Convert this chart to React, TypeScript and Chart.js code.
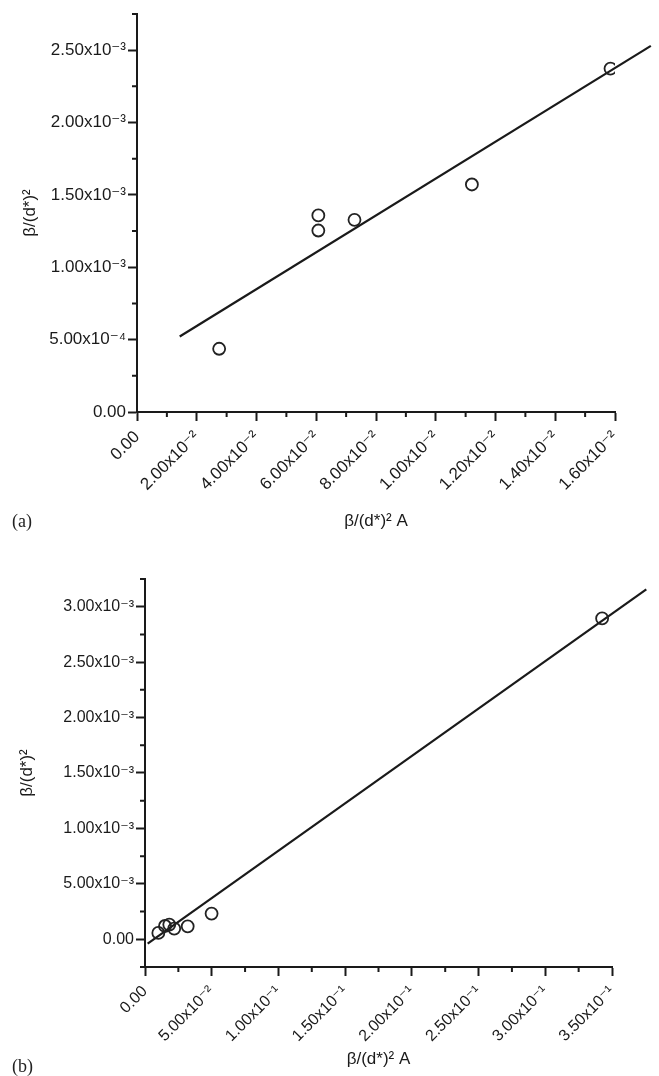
import React, { useEffect, useRef } from 'react';
import { Chart, registerables } from 'chart.js';

Chart.register(...registerables);

// ---------- Panel (a) data ----------
const A_POINTS_X = [0.0275, 0.0607, 0.0607, 0.0728, 0.1121, 0.1585];
const A_POINTS_Y = [0.437e-3, 1.358e-3, 1.254e-3, 1.328e-3, 1.572e-3, 2.373e-3];
const A_FIT_X = [0.0143, 0.172];
const A_FIT_Y = [0.522e-3, 2.53e-3];
const A_X_TICKS = [0, 0.02, 0.04, 0.06, 0.08, 0.1, 0.12, 0.14, 0.16];
const A_X_LABELS = ['0.00', '2.00x10⁻²', '4.00x10⁻²', '6.00x10⁻²', '8.00x10⁻²', '1.00x10⁻²', '1.20x10⁻²', '1.40x10⁻²', '1.60x10⁻²'];
const A_X_MINOR = [0.01, 0.03, 0.05, 0.07, 0.09, 0.11, 0.13, 0.15];
const A_Y_TICKS = [0, 0.5e-3, 1.0e-3, 1.5e-3, 2.0e-3, 2.5e-3];
const A_Y_LABELS = ['0.00', '5.00x10⁻⁴', '1.00x10⁻³', '1.50x10⁻³', '2.00x10⁻³', '2.50x10⁻³'];
const A_Y_MINOR = [0.25e-3, 0.75e-3, 1.25e-3, 1.75e-3, 2.25e-3, 2.75e-3];

// ---------- Panel (b) data ----------
const B_POINTS_X = [0.0100, 0.0150, 0.0182, 0.0219, 0.0320, 0.0499, 0.3426];
const B_POINTS_Y = [0.057e-3, 0.120e-3, 0.133e-3, 0.097e-3, 0.117e-3, 0.232e-3, 2.894e-3];
const B_FIT_X = [0.002, 0.3757];
const B_FIT_Y = [-0.039e-3, 3.156e-3];
const B_X_TICKS = [0, 0.05, 0.1, 0.15, 0.2, 0.25, 0.3, 0.35];
const B_X_LABELS = ['0.00', '5.00x10⁻²', '1.00x10⁻¹', '1.50x10⁻¹', '2.00x10⁻¹', '2.50x10⁻¹', '3.00x10⁻¹', '3.50x10⁻¹'];
const B_X_MINOR = [0.025, 0.075, 0.125, 0.175, 0.225, 0.275, 0.325];
const B_Y_TICKS = [0, 0.5e-3, 1.0e-3, 1.5e-3, 2.0e-3, 2.5e-3, 3.0e-3];
const B_Y_LABELS = ['0.00', '5.00x10⁻³', '1.00x10⁻³', '1.50x10⁻³', '2.00x10⁻³', '2.50x10⁻³', '3.00x10⁻³'];
const B_Y_MINOR = [-0.25e-3, 0.25e-3, 0.75e-3, 1.25e-3, 1.75e-3, 2.25e-3, 2.75e-3, 3.25e-3];

const Y_TITLE = 'β/(d*)²';
const X_TITLE = 'β/(d*)² A';

const INK = '#1a1a1a';
const FONT_FAMILY = '"Liberation Sans", Arial, "DejaVu Sans", sans-serif';

const minorTickPlugin = {
  id: 'minorTicks',
  afterDraw(chart: any, _args: any, opts: any) {
    const { ctx, chartArea, scales } = chart;
    const len = opts.length ?? 5;
    ctx.save();
    ctx.strokeStyle = INK;
    ctx.lineWidth = 2;
    ctx.beginPath();
    (opts.x || []).forEach((v: number) => {
      const p = scales.x.getPixelForValue(v);
      ctx.moveTo(p, chartArea.bottom);
      ctx.lineTo(p, chartArea.bottom + len);
    });
    (opts.y || []).forEach((v: number) => {
      const p = scales.y.getPixelForValue(v);
      ctx.moveTo(chartArea.left, p);
      ctx.lineTo(chartArea.left - len, p);
    });
    ctx.stroke();
    ctx.restore();
  },
};

type Spec = {
  px: number[]; py: number[]; fx: number[]; fy: number[];
  xMin: number; xMax: number; yMin: number; yMax: number;
  xTicks: number[]; xLabels: string[]; xMinor: number[];
  yTicks: number[]; yLabels: string[]; yMinor: number[];
  padTop: number; padRight: number; yWidth: number; xHeight: number;
  tickFont: number; yTitlePad: number; xTitlePad: number; xTickPad: number;
};

function makeConfig(s: Spec): any {
  const tickFont = { family: FONT_FAMILY, size: s.tickFont };
  const titleFont = { family: FONT_FAMILY, size: 17 };
  return {
    type: 'scatter',
    data: {
      datasets: [
        {
          data: s.px.map((x, i) => ({ x, y: s.py[i] })),
          showLine: false,
          pointStyle: 'circle',
          pointRadius: 6,
          pointBorderWidth: 1.8,
          pointBorderColor: '#222',
          pointBackgroundColor: 'rgba(0,0,0,0)',
        },
        {
          data: s.fx.map((x, i) => ({ x, y: s.fy[i] })),
          showLine: true,
          borderColor: INK,
          borderWidth: 2.2,
          pointRadius: 0,
          clip: false,
        },
      ],
    },
    options: {
      responsive: false,
      animation: false,
      events: [],
      layout: { padding: { top: s.padTop, right: s.padRight, left: 0, bottom: 0 } },
      plugins: {
        legend: { display: false },
        tooltip: { enabled: false },
        minorTicks: { x: s.xMinor, y: s.yMinor, length: 5 },
      },
      scales: {
        x: {
          type: 'linear',
          min: s.xMin,
          max: s.xMax,
          afterBuildTicks: (sc: any) => { sc.ticks = s.xTicks.map((v) => ({ value: v })); },
          afterFit: (sc: any) => {
            sc.height = s.xHeight;
            sc.paddingLeft = 0; sc.paddingRight = 0; sc.paddingTop = 0; sc.paddingBottom = 0;
          },
          ticks: {
            autoSkip: false,
            minRotation: 45,
            maxRotation: 45,
            padding: s.xTickPad,
            color: INK,
            font: tickFont,
            callback: (_v: any, i: number) => s.xLabels[i],
          },
          grid: { drawOnChartArea: false, drawTicks: true, tickLength: 9, tickWidth: 2, tickColor: INK },
          border: { display: true, color: INK, width: 2 },
          title: { display: true, text: X_TITLE, color: INK, font: titleFont, padding: { top: 0, bottom: s.xTitlePad } },
        },
        y: {
          type: 'linear',
          min: s.yMin,
          max: s.yMax,
          afterBuildTicks: (sc: any) => { sc.ticks = s.yTicks.map((v) => ({ value: v })); },
          afterFit: (sc: any) => {
            sc.width = s.yWidth;
            sc.paddingLeft = 0; sc.paddingRight = 0; sc.paddingTop = 0; sc.paddingBottom = 0;
          },
          ticks: {
            autoSkip: false,
            padding: 2,
            color: INK,
            font: tickFont,
            callback: (_v: any, i: number) => s.yLabels[i],
          },
          grid: { drawOnChartArea: false, drawTicks: true, tickLength: 9, tickWidth: 2, tickColor: INK },
          border: { display: true, color: INK, width: 2 },
          title: { display: true, text: Y_TITLE, color: INK, font: titleFont, padding: { top: s.yTitlePad, bottom: 0 } },
        },
      },
    },
    plugins: [minorTickPlugin],
  };
}

const SPEC_A: Spec = {
  px: A_POINTS_X, py: A_POINTS_Y, fx: A_FIT_X, fy: A_FIT_Y,
  xMin: 0, xMax: 0.16, yMin: 0, yMax: 2.75e-3,
  xTicks: A_X_TICKS, xLabels: A_X_LABELS, xMinor: A_X_MINOR,
  yTicks: A_Y_TICKS, yLabels: A_Y_LABELS, yMinor: A_Y_MINOR,
  padTop: 14, padRight: 44, yWidth: 137, xHeight: 128,
  tickFont: 17, yTitlePad: 20, xTitlePad: 8, xTickPad: 6,
};

const SPEC_B: Spec = {
  px: B_POINTS_X, py: B_POINTS_Y, fx: B_FIT_X, fy: B_FIT_Y,
  xMin: 0, xMax: 0.35, yMin: -0.25e-3, yMax: 3.25e-3,
  xTicks: B_X_TICKS, xLabels: B_X_LABELS, xMinor: B_X_MINOR,
  yTicks: B_Y_TICKS, yLabels: B_Y_LABELS, yMinor: B_Y_MINOR,
  padTop: 39, padRight: 47, yWidth: 145, xHeight: 109,
  tickFont: 16, yTitlePad: 17, xTitlePad: 6, xTickPad: 6,
};

function Panel({ spec, width, height, top }: { spec: Spec; width: number; height: number; top: number }) {
  const ref = useRef<HTMLCanvasElement | null>(null);
  useEffect(() => {
    if (!ref.current) return;
    const chart = new Chart(ref.current, makeConfig(spec));
    return () => chart.destroy();
  }, [spec]);
  return (
    <canvas
      ref={ref}
      width={width}
      height={height}
      style={{ position: 'absolute', left: 0, top, width, height }}
    />
  );
}

const panelLabel: React.CSSProperties = {
  position: 'absolute',
  left: 12,
  fontFamily: '"Liberation Serif", "DejaVu Serif", serif',
  fontSize: 18,
  lineHeight: '18px',
  color: '#222',
};

export default function App() {
  return (
    <div style={{ position: 'absolute', left: 0, top: 0, width: 659, height: 1076, background: '#fff', overflow: 'hidden' }}>
      <Panel spec={SPEC_A} width={659} height={540} top={0} />
      <Panel spec={SPEC_B} width={659} height={536} top={540} />
      <div style={{ ...panelLabel, top: 512 }}>(a)</div>
      <div style={{ ...panelLabel, top: 1057 }}>(b)</div>
    </div>
  );
}
